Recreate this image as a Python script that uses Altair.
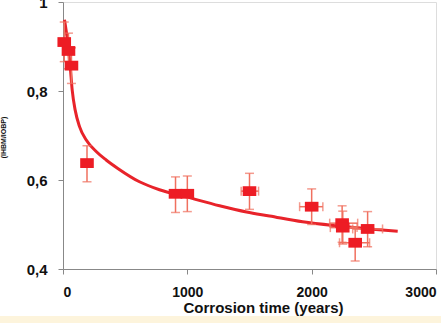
import altair as alt
import pandas as pd

# measured points
t_pts = [10, 44, 68, 193, 905, 1000, 1500, 2000, 2245, 2250, 2350, 2450]
r_pts = [0.91, 0.89, 0.857, 0.638, 0.569, 0.569, 0.575, 0.54, 0.503, 0.493, 0.459, 0.49]
r_lo = [0.866, 0.85, 0.817, 0.596, 0.527, 0.529, 0.534, 0.50, 0.46, 0.456, 0.418, 0.45]
r_hi = [0.955, 0.93, 0.897, 0.677, 0.607, 0.609, 0.615, 0.58, 0.542, 0.53, 0.495, 0.529]
t_lo = [10, 44, 68, 193, 905, 1000, 1433, 1903, 2145, 2150, 2224, 2330]
t_hi = [10, 44, 68, 193, 905, 1000, 1573, 2090, 2370, 2365, 2466, 2570]

# fitted curve
c_t = [12, 39, 58, 74, 98, 133, 187, 267, 347, 441, 615, 776, 992, 1259, 1476, 1661,
       1927, 2200, 2466, 2692]
c_r = [0.960, 0.907, 0.855, 0.802, 0.757, 0.72, 0.69, 0.664, 0.645, 0.626, 0.596, 0.578,
       0.562, 0.542, 0.528, 0.519, 0.506, 0.497, 0.49, 0.485]

X_TITLE = "Corrosion time (years)"
Y_TITLE = "(IHBM/IOBP)"

pts = pd.DataFrame({"t": t_pts, "r": r_pts, "rlo": r_lo, "rhi": r_hi, "tlo": t_lo, "thi": t_hi})
curve = pd.DataFrame({"t": c_t, "r": c_r})

W, H = 373, 267
xs = alt.Scale(domain=[0, 3000], nice=False)
ys = alt.Scale(domain=[0.4, 1.0], nice=False, zero=False)

FONT = "Liberation Sans"
x_axis = alt.Axis(values=[0, 1000, 2000, 3000], format="d", grid=False, zindex=1,
                  labelFont=FONT, labelFontWeight="bold", labelFontSize=14, labelColor="#111",
                  labelPadding=11, titlePadding=1, titleFontSize=15, titleX=200,
                  titleFont=FONT, titleFontWeight="bold", titleColor="#111")
y_axis = alt.Axis(values=[0.4, 0.6, 0.8, 1.0], labelExpr="replace(format(datum.value, '.1~f'), '.', ',')",
                  grid=False, labelFont=FONT, labelFontWeight="bold", labelFontSize=15, labelColor="#111",
                  labelPadding=11, titleFont=FONT, titleFontWeight="bold", titleColor="#111",
                  titleFontSize=7, titleX=-57, titleY=135, titleAngle=-90)

band = alt.Chart(pd.DataFrame({"a": [0]})).mark_rect(color="#fdf4dc").encode(
    x=alt.value(-63), x2=alt.value(380), y=alt.value(314), y2=alt.value(330))

line = alt.Chart(curve).mark_line(color="#e8232a", strokeWidth=3, interpolate="monotone").encode(
    x=alt.X("t:Q", scale=xs, axis=x_axis, title=X_TITLE),
    y=alt.Y("r:Q", scale=ys, axis=y_axis, title=Y_TITLE))

tick_cfg = alt.TickConfig(size=9, color="#f0705f", thickness=1.5)
vbars = alt.Chart(pts).mark_errorbar(ticks=tick_cfg, color="#f0705f", thickness=1.5).encode(
    x=alt.X("t:Q", scale=xs, title=X_TITLE),
    y=alt.Y("rlo:Q", scale=ys, title=Y_TITLE), y2="rhi:Q")

hbars = alt.Chart(pts[pts.thi > pts.tlo]).mark_errorbar(ticks=tick_cfg, color="#f0705f", thickness=1.5).encode(
    y=alt.Y("r:Q", scale=ys, title=Y_TITLE),
    x=alt.X("tlo:Q", scale=xs, title=X_TITLE), x2="thi:Q")

marks = alt.Chart(pts).mark_point(shape="M-1,-0.72H1V0.72H-1Z", filled=True, opacity=1,
                                  color="#ed1c24", size=185).encode(
    x=alt.X("t:Q", scale=xs, title=X_TITLE), y=alt.Y("r:Q", scale=ys, title=Y_TITLE))

chart = alt.layer(band, line, vbars, hbars, marks).properties(
    width=W, height=H,
    autosize=alt.AutoSizeParams(type="none"),
    padding={"left": 63, "top": 2, "right": 5, "bottom": 54},
).configure_view(stroke="#a8a8a8", strokeWidth=1.5).configure_axis(
    domainColor="#a8a8a8", tickColor="#a8a8a8", tickSize=5,
).configure(background="white")

chart.save("out.html", embed_options={"renderer": "svg", "actions": False})
